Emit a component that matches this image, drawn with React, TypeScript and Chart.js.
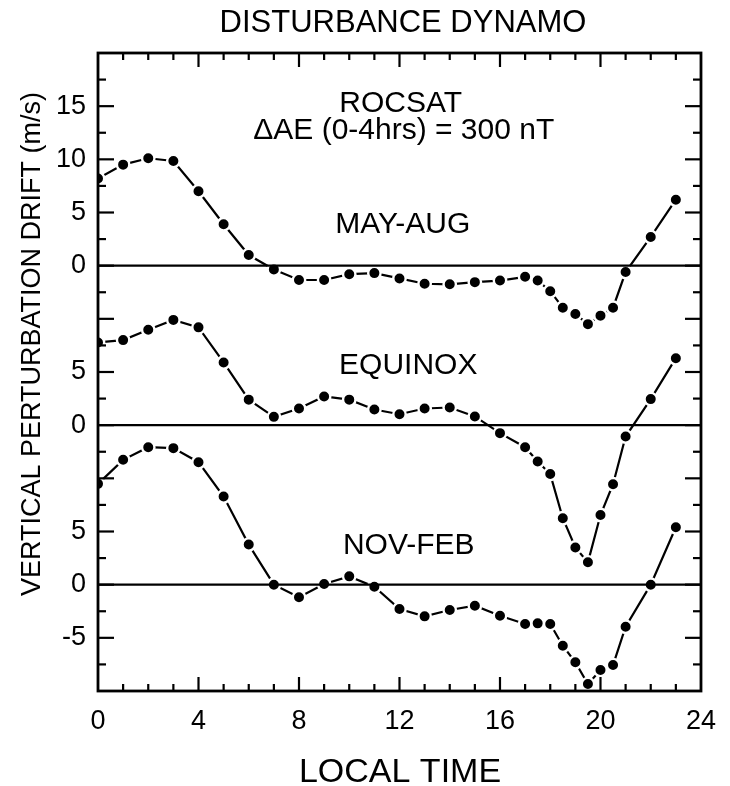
import React, { useEffect, useRef } from "react";
import { Chart, registerables } from "chart.js";

Chart.register(...registerables);

// Local time (hours) of each sample
const hours = [0, 1, 2, 3, 4, 5, 6, 7, 8, 9, 10, 11, 12, 13, 14, 15, 16, 17, 17.5, 18, 18.5, 19, 19.5, 20, 20.5, 21, 22, 23];

// Vertical perturbation drift (m/s)
const mayAug = [8.2, 9.5, 10.1, 9.85, 7.0, 3.9, 1.0, -0.35, -1.35, -1.35, -0.8, -0.7, -1.2, -1.7, -1.75, -1.55, -1.4, -1.05, -1.4, -2.4, -3.95, -4.55, -5.5, -4.7, -3.95, -0.6, 2.7, 6.2];
const equinox = [7.78, 8.0, 8.97, 9.9, 9.2, 5.9, 2.4, 0.78, 1.57, 2.7, 2.4, 1.47, 1.03, 1.57, 1.66, 0.82, -0.75, -2.07, -3.42, -4.6, -8.75, -11.5, -12.9, -8.45, -5.55, -1.07, 2.45, 6.3];
const novFeb = [9.48, 11.74, 12.93, 12.84, 11.52, 8.29, 3.77, 0, -1.19, 0.06, 0.78, -0.19, -2.29, -2.98, -2.38, -1.98, -2.92, -3.7, -3.64, -3.7, -5.74, -7.3, -9.35, -8.03, -7.56, -3.95, 0, 5.4];

// Panel axis ranges (each panel has its own value axis over the full plot height)
const topRange = [-40, 20];
const midRange = [-25, 35];
const botRange = [-10, 50];

// Labelled y ticks of each panel
const topPanelTickLabels = [0, 5, 10, 15];
const midPanelTickLabels = [0, 5];
const botPanelTickLabels = [-5, 0, 5];

// x axis
const xRange = [0, 24];
const xLabelEvery = 4;

const titleText = "DISTURBANCE DYNAMO";
const xTitle = "LOCAL TIME";
const yTitle = "VERTICAL PERTURBATION DRIFT (m/s)";

const FONT = "'Liberation Sans', Arial, Helvetica, sans-serif";

const panelTexts = [
  { text: "ROCSAT", axis: "yTop", x: 12.05, y: 14.45 },
  { text: "\u0394AE (0-4hrs) = 300 nT", axis: "yTop", x: 12.17, y: 11.9 },
  { text: "MAY-AUG", axis: "yTop", x: 12.13, y: 3.08 },
  { text: "EQUINOX", axis: "yMid", x: 12.35, y: 4.85 },
  { text: "NOV-FEB", axis: "yBot", x: 12.37, y: 2.92 },
];

const framePlugin = {
  id: "frameTicks",
  afterDatasetsDraw(chart: any) {
    const { ctx, chartArea: a, scales } = chart;
    const xs = scales.x;
    const yb = scales.yBot;
    const line = (x1: number, y1: number, x2: number, y2: number) => {
      ctx.beginPath();
      ctx.moveTo(x1, y1);
      ctx.lineTo(x2, y2);
      ctx.stroke();
    };
    ctx.save();
    ctx.strokeStyle = "#000";
    ctx.lineCap = "butt";
    // zero lines of each panel
    ctx.lineWidth = 2.4;
    for (const id of ["yTop", "yMid", "yBot"]) {
      const py = scales[id].getPixelForValue(0);
      line(a.left, py, a.right, py);
    }
    // inward ticks
    ctx.lineWidth = 2.2;
    for (const t of yb.ticks) {
      const v = Math.round(t.value * 10) / 10;
      if (v <= yb.min || v >= yb.max) continue;
      const py = yb.getPixelForValue(v);
      const len = Math.abs(v % 5) < 1e-6 ? 16 : 8;
      line(a.left, py, a.left + len, py);
      line(a.right, py, a.right - len, py);
    }
    for (const t of xs.ticks) {
      const v = t.value;
      if (v <= xs.min || v >= xs.max) continue;
      const px = xs.getPixelForValue(v);
      const len = v % xLabelEvery === 0 ? 14 : 7;
      line(px, a.bottom, px, a.bottom - len);
      line(px, a.top, px, a.top + len);
    }
    // frame
    ctx.lineWidth = 2.8;
    ctx.strokeRect(a.left, a.top, a.right - a.left, a.bottom - a.top);
    ctx.restore();
  },
  afterDraw(chart: any) {
    const { ctx, scales } = chart;
    ctx.save();
    ctx.fillStyle = "#000";
    ctx.textAlign = "center";
    ctx.textBaseline = "alphabetic";
    ctx.font = `31px ${FONT}`;
    ctx.fillText(titleText, 403, 32);
    ctx.font = `30px ${FONT}`;
    for (const p of panelTexts) {
      ctx.fillText(p.text, scales.x.getPixelForValue(p.x), scales[p.axis].getPixelForValue(p.y));
    }
    ctx.font = `34px ${FONT}`;
    ctx.fillText(xTitle, 400, 782);
    ctx.translate(40, 344);
    ctx.rotate(-Math.PI / 2);
    ctx.font = `27px ${FONT}`;
    ctx.fillText(yTitle, 0, 0);
    ctx.restore();
  },
};

function makeData(values: number[]) {
  return hours.map((h, i) => ({ x: h, y: values[i] }));
}

export default function App() {
  const ref = useRef<HTMLCanvasElement | null>(null);
  useEffect(() => {
    if (!ref.current) return;
    const common = {
      borderColor: "#000",
      borderWidth: 2.2,
      pointRadius: 6.2,
      pointBorderWidth: 2.4,
      pointBackgroundColor: "#000",
      pointBorderColor: "#fff",
      tension: 0,
      fill: false,
    };
    const chart = new Chart(ref.current, {
      type: "line",
      data: {
        datasets: [
          { label: "MAY-AUG", data: makeData(mayAug), yAxisID: "yTop", ...common },
          { label: "EQUINOX", data: makeData(equinox), yAxisID: "yMid", ...common },
          { label: "NOV-FEB", data: makeData(novFeb), yAxisID: "yBot", ...common },
        ],
      },
      options: {
        responsive: false,
        animation: false,
        devicePixelRatio: 1,
        layout: { padding: { top: 53, right: 27, left: 0, bottom: 0 } },
        plugins: { legend: { display: false }, tooltip: { enabled: false }, title: { display: false } },
        scales: {
          x: {
            type: "linear",
            position: "bottom",
            min: xRange[0],
            max: xRange[1],
            grid: { display: false, drawTicks: false },
            border: { display: false },
            ticks: {
              stepSize: 1,
              autoSkip: false,
              maxRotation: 0,
              padding: 14,
              color: "#000",
              font: { family: FONT, size: 27 },
              callback: (v: any) => (Number(v) % xLabelEvery === 0 ? String(v) : ""),
            },
            afterFit: (s: any) => {
              s.height = 95;
            },
          },
          yBot: {
            type: "linear",
            position: "left",
            min: botRange[0],
            max: botRange[1],
            grid: { display: false, drawTicks: false },
            border: { display: false },
            ticks: {
              stepSize: 2.5,
              autoSkip: false,
              padding: 12,
              color: "#000",
              font: { family: FONT, size: 27 },
              callback: (val: any) => {
                const v = Math.round(Number(val) * 10) / 10;
                if (botPanelTickLabels.includes(v)) return String(v);
                const vm = v + (midRange[0] - botRange[0]);
                if (midPanelTickLabels.includes(vm)) return String(vm);
                const vt = v + (topRange[0] - botRange[0]);
                if (topPanelTickLabels.includes(vt)) return String(vt);
                return "";
              },
            },
            afterFit: (s: any) => {
              s.width = 98;
            },
          },
          yMid: { type: "linear", position: "left", display: false, min: midRange[0], max: midRange[1] },
          yTop: { type: "linear", position: "left", display: false, min: topRange[0], max: topRange[1] },
        },
      },
      plugins: [framePlugin],
    } as any);
    return () => chart.destroy();
  }, []);
  return (
    <div style={{ position: "absolute", left: 0, top: 0, width: 730, height: 786, background: "#fff" }}>
      <canvas ref={ref} width={730} height={786} style={{ display: "block" }} />
    </div>
  );
}
